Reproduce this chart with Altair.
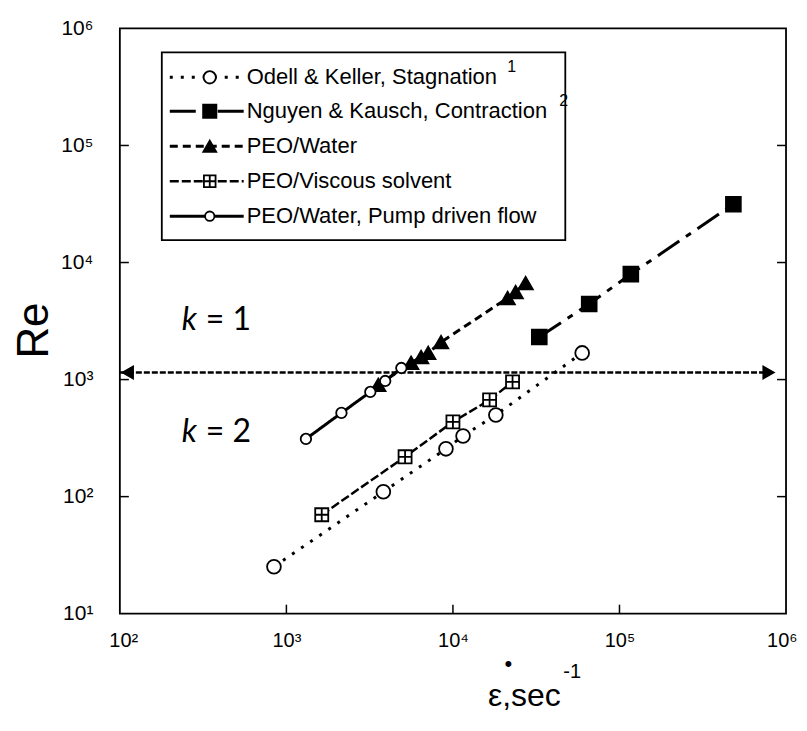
import altair as alt
import pandas as pd

# ---------------- data ----------------
series_names = [
    "Odell & Keller, Stagnation",
    "Nguyen & Kausch, Contraction",
    "PEO/Water",
    "PEO/Viscous solvent",
    "PEO/Water, Pump driven flow",
]
series_sup = ["1", "2", "", "", ""]

odell_x = [842, 3820, 9080, 11500, 18100, 59700]
odell_y = [25.2, 110, 256, 330, 499, 1690]

nguyen_x = [33000, 65800, 117000, 483000]
nguyen_y = [2310, 4420, 7960, 31500]

peo_water_x = [3560, 5610, 6440, 7100, 8480, 21300, 23800, 27300]
peo_water_y = [900, 1390, 1560, 1690, 2090, 4970, 5590, 6670]

viscous_x = [1630, 5160, 10000, 16600, 22800]
viscous_y = [70, 219, 435, 670, 955]

pump_x = [1310, 2140, 3190, 3920, 4900]
pump_y = [311, 519, 784, 973, 1256]

critical_re = 1150
arrow_x = [111, 790000]
line_x = [100, 760000]

x_ticks = [100, 1000, 10000, 100000, 1000000]
y_ticks = [10, 100, 1000, 10000, 100000, 1000000]
region_labels = ["= 1", "= 2"]

# ---------------- styling ----------------
W, H = 667, 586
PAD_L, PAD_T = 112, 20
FONT = "Liberation Sans"
xs = alt.Scale(type="log", domain=[100, 1000000], nice=False)
ys = alt.Scale(type="log", domain=[10, 1000000], nice=False)
box_path = "M-1,-1L1,-1L1,1L-1,1Z M0,-1L0,1 M-1,0L1,0"

sup_expr = ("'10' + ['\u2070','\u00b9','\u00b2','\u00b3','\u2074','\u2075','\u2076']"
            "[round(log(datum.value)/LN10)]")

xa = alt.Axis(
    values=x_ticks, labelExpr=sup_expr, ticks=False, domain=False, grid=False,
    labelFont=FONT, labelFontSize=20, labelColor="black", labelPadding=17,
    title=None, labelFlush=True, labelFlushOffset=11,
)
ya = alt.Axis(
    values=y_ticks, labelExpr=sup_expr, ticks=False, domain=False, grid=False,
    labelFont=FONT, labelFontSize=21, labelColor="black", labelPadding=27,
    title="Re", titleFont=FONT, titleFontSize=44, titleFontWeight="normal",
    titleColor="black", titleX=-85, titleY=302, titleAngle=-90,
    titleBaseline="middle", titleAlign="center", labelFlush=False,
)


def X(field):
    return alt.X(f"{field}:Q", scale=xs, axis=xa)


def Y(field):
    return alt.Y(f"{field}:Q", scale=ys, axis=ya)


series_data = [
    (odell_x, odell_y),
    (nguyen_x, nguyen_y),
    (peo_water_x, peo_water_y),
    (viscous_x, viscous_y),
    (pump_x, pump_y),
]
styles = [
    dict(shape="circle", fill="white", size=190, dash=[3, 8], sw=3),
    dict(shape="square", fill="black", size=220, dash=[26, 8, 6, 8], sw=3),
    dict(shape="triangle-up", fill="black", size=210, dash=[8, 5], sw=3),
    dict(shape=box_path, fill="white", size=170, dash=[9, 3], sw=2.5),
    dict(shape="circle", fill="white", size=110, dash=[1, 0], sw=3),
]

layers = []

# inward ticks
yt = pd.DataFrame({"v": y_ticks[1:-1]})
xt = pd.DataFrame({"v": x_ticks[1:-1]})
for x0, x1 in [(0, 9), (W - 9, W)]:
    layers.append(
        alt.Chart(yt).mark_rule(color="black", strokeWidth=1.5).encode(
            y=Y("v"), x=alt.value(x0), x2=alt.value(x1)
        )
    )
layers.append(
    alt.Chart(xt).mark_rule(color="black", strokeWidth=1.5).encode(
        x=X("v"), y=alt.value(H - 9), y2=alt.value(H)
    )
)

# critical Re line with arrows
crit_line = pd.DataFrame({"x": line_x, "y": [critical_re] * 2})
layers.append(
    alt.Chart(crit_line).mark_line(color="black", strokeWidth=2.5, strokeDash=[6, 2]).encode(
        x=X("x"), y=Y("y")
    )
)
for ax, shp in zip(arrow_x, ["triangle-left", "triangle-right"]):
    layers.append(
        alt.Chart(pd.DataFrame({"x": [ax], "y": [critical_re]}))
        .mark_point(shape=shp, filled=True, color="black", size=230, opacity=1)
        .encode(x=X("x"), y=Y("y"))
    )

# data series
for (sx, sy), st in zip(series_data, styles):
    df = pd.DataFrame({"x": sx, "y": sy})
    layers.append(
        alt.Chart(df).mark_line(color="black", strokeWidth=st["sw"], strokeDash=st["dash"]).encode(
            x=X("x"), y=Y("y")
        )
    )
    layers.append(
        alt.Chart(df)
        .mark_point(shape=st["shape"], filled=True, fill=st["fill"], stroke="black",
                    strokeWidth=1.8, size=st["size"], opacity=1)
        .encode(x=X("x"), y=Y("y"))
    )

# legend box
layers.append(
    alt.Chart(pd.DataFrame({"a": [0]}))
    .mark_rect(fill="white", stroke="black", strokeWidth=1.8)
    .encode(x=alt.value(42), x2=alt.value(446), y=alt.value(24), y2=alt.value(212))
)
row_y = [49, 83, 118, 153, 188]
for i, (name, st) in enumerate(zip(series_names, styles)):
    ry = row_y[i]
    one = pd.DataFrame({"name": [name], "sup": [series_sup[i]]})
    layers.append(
        alt.Chart(one).mark_rule(color="black", strokeWidth=st["sw"], strokeDash=st["dash"]).encode(
            x=alt.value(50), x2=alt.value(124), y=alt.value(ry)
        )
    )
    layers.append(
        alt.Chart(one)
        .mark_point(shape=st["shape"], filled=True, fill=st["fill"], stroke="black",
                    strokeWidth=1.8, size=st["size"] * 0.8, opacity=1)
        .encode(x=alt.value(90), y=alt.value(ry))
    )
    layers.append(
        alt.Chart(one)
        .mark_text(align="left", baseline="middle", font=FONT, fontSize=22, color="black")
        .encode(x=alt.value(127), y=alt.value(ry), text="name:N")
    )
    if series_sup[i]:
        layers.append(
            alt.Chart(one)
            .mark_text(align="left", baseline="middle", font=FONT, fontSize=16, color="black")
            .encode(x=alt.value(388 if i == 0 else 440), y=alt.value(ry - 10), text="sup:N")
        )

# k = 1 / k = 2 labels
for ry, lab in zip([302, 414], region_labels):
    one = pd.DataFrame({"t": [lab]})
    layers.append(
        alt.Chart(one)
        .mark_text(align="left", baseline="alphabetic", font="Lato", fontSize=32,
                   fontStyle="italic", color="black")
        .encode(x=alt.value(62), y=alt.value(ry), text=alt.value("k"))
    )
    layers.append(
        alt.Chart(one)
        .mark_text(align="left", baseline="alphabetic", font="Lato", fontSize=32, color="black")
        .encode(x=alt.value(86), y=alt.value(ry), text="t:N")
    )

# x-axis title  (epsilon-dot, sec^-1)
title_df = pd.DataFrame({"t": ["\u03b5,sec"], "dot": ["\u2022"], "sup": ["-1"]})
layers.append(
    alt.Chart(title_df)
    .mark_text(align="center", baseline="alphabetic", font=FONT, fontSize=32, color="black")
    .encode(x=alt.value(405), y=alt.value(678), text="t:N")
)
layers.append(
    alt.Chart(title_df)
    .mark_text(align="center", baseline="middle", font=FONT, fontSize=22, color="black")
    .encode(x=alt.value(389), y=alt.value(636), text="dot:N")
)
layers.append(
    alt.Chart(title_df)
    .mark_text(align="left", baseline="middle", font=FONT, fontSize=20, color="black")
    .encode(x=alt.value(444), y=alt.value(644), text="sup:N")
)

chart = (
    alt.layer(*layers)
    .properties(
        width=W,
        height=H,
        autosize=alt.AutoSizeParams(type="none"),
        padding={"left": PAD_L, "top": PAD_T, "right": 13, "bottom": 100},
        background="white",
    )
    .configure_view(stroke="black", strokeWidth=1.8)
)

chart.save("out.html", embed_options={"renderer": "svg", "actions": False})
